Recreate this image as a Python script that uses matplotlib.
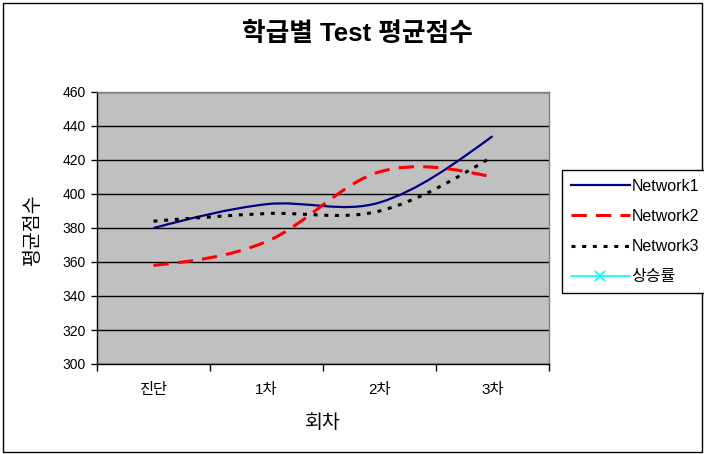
import matplotlib
matplotlib.use('Agg')
import matplotlib.pyplot as plt
from matplotlib.path import Path
from matplotlib.patches import PathPatch, Rectangle
from matplotlib.lines import Line2D

plt.rcParams['font.family'] = ['Liberation Sans', 'Noto Sans CJK KR', 'DejaVu Sans']

# data
categories = ['진단', '1차', '2차', '3차']
network1 = [380, 394, 395, 434]
network2 = [358, 372, 413, 410]
network3 = [384, 388.5, 390, 422]
# 상승률 has no point inside the 300-460 range, only the legend entry shows
series_names = ['Network1', 'Network2', 'Network3', '상승률']


def smooth_path(xs, ys):
    # Excel style smoothed line: cubic bezier through every point
    pts = list(zip(xs, ys))
    n = len(pts)
    verts = [pts[0]]
    codes = [Path.MOVETO]
    for i in range(n - 1):
        p0 = pts[i - 1] if i > 0 else pts[i]
        p1 = pts[i]
        p2 = pts[i + 1]
        p3 = pts[i + 2] if i + 2 < n else pts[i + 1]
        c1 = (p1[0] + (p2[0] - p0[0]) / 6, p1[1] + (p2[1] - p0[1]) / 6)
        c2 = (p2[0] - (p3[0] - p1[0]) / 6, p2[1] - (p3[1] - p1[1]) / 6)
        if i == 0:
            c1 = ((p1[0] + c2[0]) / 2, (p1[1] + c2[1]) / 2)
        if i == n - 2:
            c2 = ((p2[0] + c1[0]) / 2, (p2[1] + c1[1]) / 2)
        verts += [c1, c2, p2]
        codes += [Path.CURVE4] * 3
    return Path(verts, codes)


fig = plt.figure(figsize=(7.04, 4.54), dpi=100)
ax = fig.add_axes([97 / 704, 1 - 364 / 454, 452 / 704, 272 / 454])
ax.set_facecolor('#C0C0C0')

x = list(range(len(categories)))
styles = [
    dict(color='#000080', lw=1.6, ls='-'),
    dict(color='#FF0000', lw=2.2, ls=(0, (5, 3))),
    dict(color='#000000', lw=2.2, ls=(0, (1.3, 2.2))),
]
for vals, st in zip([network1, network2, network3], styles):
    patch = PathPatch(smooth_path(x, vals), fill=False, edgecolor=st['color'],
                      lw=st['lw'], ls=st['ls'], zorder=3, capstyle='butt')
    ax.add_patch(patch)

ax.set_xlim(-0.5, 3.5)
ax.set_ylim(300, 460)
ax.set_yticks(range(300, 461, 20))
ax.yaxis.grid(True, color='black', lw=1)
ax.set_axisbelow(True)
ax.tick_params(axis='y', length=4, width=1, direction='out', labelsize=10, pad=4)
ax.set_xticks(x)
ax.set_xticklabels(categories)
ax.tick_params(axis='x', which='major', length=0, labelsize=11, pad=14)
ax.set_xticks([-0.5, 0.5, 1.5, 2.5, 3.5], minor=True)
ax.tick_params(axis='x', which='minor', length=5, width=1, direction='out')
for s in ax.spines.values():
    s.set_color('#808080')
    s.set_linewidth(1)
ax.spines['left'].set_color('black')
ax.spines['bottom'].set_color('black')

fig.text(357 / 704, 1 - 34 / 454, '학급별 Test 평균점수', ha='center', va='center',
         fontsize=18.5, fontweight='bold')
fig.text(323 / 704, 1 - 423 / 454, '회차', ha='center', va='center', fontsize=14)
fig.text(33 / 704, 1 - 229 / 454, '평균점수', ha='center', va='center',
         fontsize=14, rotation=90)

handles = [
    Line2D([], [], **styles[0]),
    Line2D([], [], **styles[1]),
    Line2D([], [], **styles[2]),
    Line2D([], [], color='#00FFFF', lw=1.2, marker='x', markersize=7,
           markeredgecolor='#00FFFF', markeredgewidth=1.2),
]
leg = fig.legend(handles, series_names, loc='upper left',
                 bbox_to_anchor=(562 / 704, 1 - 170 / 454), borderaxespad=0,
                 fontsize=11.5, handlelength=3.7, handletextpad=0.1,
                 labelspacing=0.95, borderpad=0.55, frameon=True,
                 fancybox=False, edgecolor='black', framealpha=1)
leg.get_frame().set_linewidth(1)

fig.patches.append(Rectangle((3 / 704, 2 / 454), 699 / 704, 449 / 454,
                             transform=fig.transFigure, fill=False,
                             edgecolor='black', lw=1))

fig.savefig('out.png', dpi=100)
